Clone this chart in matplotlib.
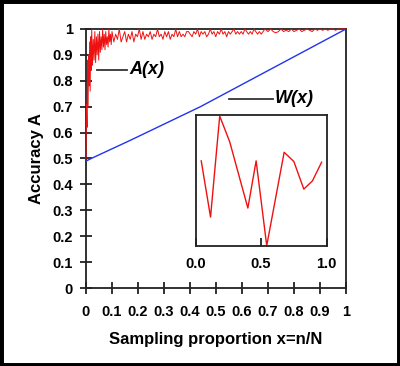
import matplotlib
matplotlib.use("Agg")
import matplotlib.pyplot as plt
from matplotlib.patches import Rectangle

plt.rcParams['font.family'] = ['Liberation Sans', 'DejaVu Sans']

# ---------------- data ----------------
x_ticks = [0, 0.1, 0.2, 0.3, 0.4, 0.5, 0.6, 0.7, 0.8, 0.9, 1]
x_tick_labels = ['0', '0.1', '0.2', '0.3', '0.4', '0.5', '0.6', '0.7', '0.8', '0.9', '1']
y_ticks = [0, 0.1, 0.2, 0.3, 0.4, 0.5, 0.6, 0.7, 0.8, 0.9, 1]
y_tick_labels = ['0', '0.1', '0.2', '0.3', '0.4', '0.5', '0.6', '0.7', '0.8', '0.9', '1']

# W(x) curve
w_x = [0.0, 0.02, 0.17, 0.44, 1.0]
w_y = [0.49, 0.50, 0.57, 0.70, 1.0]

# A(x) noisy curve: early dense section
a_x_early = [0.0, 0.002, 0.004, 0.006, 0.008, 0.010, 0.012, 0.014, 0.016, 0.018,
             0.020, 0.022, 0.025, 0.028, 0.031, 0.034, 0.037, 0.040, 0.043, 0.046,
             0.049, 0.052, 0.055, 0.058, 0.061, 0.064, 0.067, 0.070, 0.073, 0.076,
             0.079, 0.082, 0.085, 0.088, 0.091, 0.094, 0.097]
a_y_early = [0.50, 0.71, 0.62, 0.88, 0.70, 0.90, 0.78, 0.95, 0.76, 0.97,
             0.84, 1.00, 0.86, 0.96, 0.88, 0.99, 0.87, 0.97, 0.90, 0.98,
             0.88, 0.99, 0.91, 0.97, 0.92, 1.00, 0.93, 0.98, 0.92, 0.99,
             0.94, 0.97, 0.93, 1.00, 0.95, 0.98, 0.94]
# middle section x = 0.100 .. 0.390 step 0.007
a_y_mid1 = [0.99, 0.95, 0.98, 0.96, 1.00, 0.95, 0.97, 0.99, 0.95, 0.98,
            0.96, 0.99, 0.95, 0.98, 0.97, 1.00, 0.96, 0.99, 0.96, 0.98,
            0.97, 0.99, 0.96, 0.98, 0.97, 1.00, 0.97, 0.98, 0.96, 0.99,
            0.97, 0.99, 0.96, 0.98, 0.97, 1.00, 0.97, 0.99, 0.97, 0.98,
            0.97, 0.99]
# x = 0.394 .. 0.688 step 0.007
a_y_mid2 = [0.99, 0.98, 0.97, 0.99, 0.98, 1.00, 0.97, 0.99, 0.98, 0.99,
            0.97, 0.98, 1.00, 0.98, 0.99, 0.97, 0.99, 0.98, 1.00, 0.98,
            0.99, 0.97, 0.99, 0.98, 0.99, 1.00, 0.98, 0.99, 0.98, 0.99,
            0.98, 1.00, 0.99, 0.98, 0.99, 0.98, 1.00, 0.99, 0.98, 0.99,
            0.98, 0.99, 1.00]
# x = 0.70 .. 1.00 step 0.01
a_y_late = [0.99, 1.00, 0.99, 0.985, 0.99, 1.00, 0.99, 0.995, 0.99, 1.00,
            0.99, 0.995, 1.00, 0.99, 0.995, 1.00, 0.995, 0.99, 1.00, 0.995,
            1.00, 0.995, 1.00, 0.995, 1.00, 1.00, 0.995, 1.00, 1.00, 1.00, 1.00]

# inset series
inset_x = [0.043, 0.114, 0.184, 0.260, 0.399, 0.462, 0.543, 0.676, 0.750, 0.826, 0.892, 0.962]
inset_y = [0.649, 0.219, 0.992, 0.796, 0.288, 0.649, 0.000, 0.715, 0.644, 0.433, 0.496, 0.639]
inset_ticks = [0.0, 0.5, 1.0]
inset_tick_labels = ['0.0', '0.5', '1.0']

# build A(x) x-coordinates
a_x = list(a_x_early)
a_y = list(a_y_early)
for i, v in enumerate(a_y_mid1):
    a_x.append(0.100 + 0.007 * i); a_y.append(v)
for i, v in enumerate(a_y_mid2):
    a_x.append(0.394 + 0.007 * i); a_y.append(v)
for i, v in enumerate(a_y_late):
    a_x.append(0.70 + 0.01 * i); a_y.append(v)

# ---------------- figure ----------------
fig = plt.figure(figsize=(4.0, 3.66), dpi=100)
fig.patch.set_facecolor('white')
fig.add_artist(Rectangle((0, 0), 1, 1, transform=fig.transFigure,
                         fill=False, edgecolor='black', linewidth=5))

ax = fig.add_axes([0.215, 0.2131, 0.65, 0.7077])
ax.plot(a_x, a_y, color='#ee1111', linewidth=0.7, clip_on=False, zorder=3)
ax.plot(w_x, w_y, color='#2233ee', linewidth=1.0, zorder=3)
ax.set_xlim(0, 1)
ax.set_ylim(0, 1)
ax.set_xticks(x_ticks)
ax.set_xticklabels(x_tick_labels)
ax.set_yticks(y_ticks)
ax.set_yticklabels(y_tick_labels)
for s in ax.spines.values():
    s.set_linewidth(1.3)
    s.set_color('#222222')
ax.tick_params(axis='both', direction='inout', length=9, width=1.3, color='#222222',
               labelsize=10.5, pad=5)
ax.tick_params(axis='x', pad=8)
for lab in ax.get_xticklabels() + ax.get_yticklabels():
    lab.set_fontweight('bold')
ax.set_xlabel('Sampling proportion x=n/N', fontsize=12, fontweight='bold', labelpad=9)
ax.set_ylabel('Accuracy A', fontsize=12, fontweight='bold', labelpad=6)

# annotations
ax.plot([0.042, 0.158], [0.842, 0.842], color='#333333', linewidth=1.3)
ax.text(0.165, 0.842, 'A(x)', fontsize=13, fontweight='bold', fontstyle='italic',
        va='center', ha='left')
ax.plot([0.55, 0.72], [0.73, 0.73], color='#333333', linewidth=1.3)
ax.text(0.725, 0.73, 'W(x)', fontsize=13, fontweight='bold', fontstyle='italic',
        va='center', ha='left')

# inset
ins = fig.add_axes([0.489, 0.3287, 0.3275, 0.3571])
ins.plot(inset_x, inset_y, color='#ee1111', linewidth=1.0, clip_on=False)
ins.set_xlim(0, 1)
ins.set_ylim(0, 1)
ins.set_xticks(inset_ticks)
ins.set_xticklabels(inset_tick_labels)
ins.set_yticks([])
for s in ins.spines.values():
    s.set_linewidth(1.3)
    s.set_color('#222222')
ins.tick_params(axis='x', direction='in', length=6, width=1.3, color='#222222',
                labelsize=10.5, pad=8)
for lab in ins.get_xticklabels():
    lab.set_fontweight('bold')

fig.savefig('out.png', dpi=100, facecolor='white')
